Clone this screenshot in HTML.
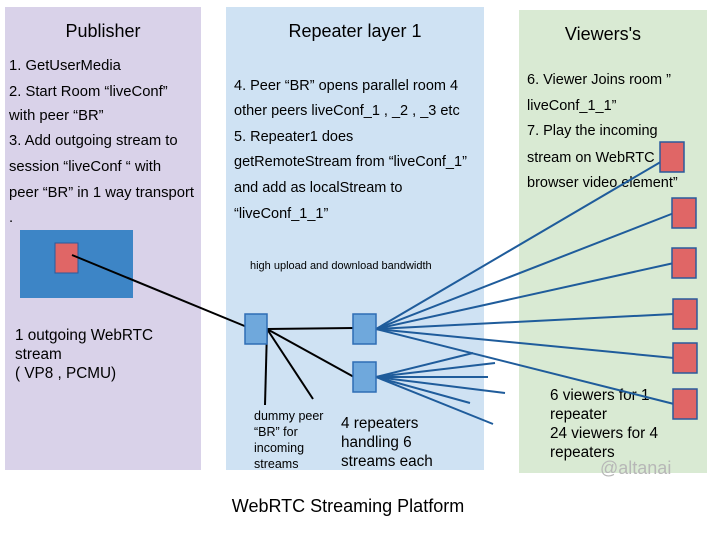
<!DOCTYPE html>
<html><head><style>
body{margin:0;background:#fff;}
svg{display:block;font-family:"Liberation Sans",Arial,sans-serif;}
</style></head><body>
<svg width="720" height="540" viewBox="0 0 720 540" xmlns="http://www.w3.org/2000/svg">
<rect x="0" y="0" width="720" height="540" fill="#fff"/>
<rect x="5" y="7" width="196" height="463" fill="#d9d2e9"/>
<rect x="226" y="7" width="258" height="463" fill="#cfe2f3"/>
<rect x="519" y="10" width="188" height="463" fill="#d9ead3"/>

<g fill="#000">
<text x="103" y="37" font-size="18" text-anchor="middle">Publisher</text>
<text x="355" y="37" font-size="18" text-anchor="middle">Repeater layer 1</text>
<text x="603" y="40" font-size="18" text-anchor="middle">Viewers's</text>

<g font-size="14.8">
<text x="9" y="70">1. GetUserMedia</text>
<text x="9" y="96">2. Start Room “liveConf”</text>
<text x="9" y="120">with peer “BR”</text>
<text x="9" y="145">3. Add outgoing stream to</text>
<text x="9" y="171">session “liveConf “ with</text>
<text x="9" y="197">peer “BR” in 1 way transport</text>
<text x="9" y="222">.</text>
</g>
<g font-size="14.5">
<text x="234" y="90">4. Peer “BR” opens parallel room 4</text>
<text x="234" y="115">other peers liveConf_1 , _2 , _3 etc</text>
<text x="234" y="141">5. Repeater1 does</text>
<text x="234" y="166">getRemoteStream from “liveConf_1”</text>
<text x="234" y="192">and add as localStream to</text>
<text x="234" y="218">“liveConf_1_1”</text>

<text x="527" y="84">6. Viewer Joins room ”</text>
<text x="527" y="110">liveConf_1_1”</text>
<text x="527" y="135">7. Play the incoming</text>
<text x="527" y="162">stream on WebRTC</text>
<text x="527" y="187">browser video element”</text>
</g>
<g font-size="15.3">
<text x="15" y="340">1 outgoing WebRTC</text>
<text x="15" y="359">stream</text>
<text x="15" y="378">( VP8 , PCMU)</text>

<text x="341" y="428">4 repeaters</text>
<text x="341" y="447">handling 6</text>
<text x="341" y="466">streams each</text>

<text x="550" y="400">6 viewers for 1</text>
<text x="550" y="419">repeater</text>
<text x="550" y="438">24 viewers for 4</text>
<text x="550" y="457">repeaters</text>
</g>
<text x="250" y="269" font-size="11">high upload and download bandwidth</text>
<g font-size="12.5">
<text x="254" y="420">dummy peer</text>
<text x="254" y="436">“BR” for</text>
<text x="254" y="452">incoming</text>
<text x="254" y="468">streams</text>
</g>
<text x="600" y="474" font-size="18" fill="#b7b7b7">@altanai</text>
<text x="348" y="512" font-size="18" text-anchor="middle">WebRTC Streaming Platform</text>
</g>

<rect x="20" y="230" width="113" height="68" fill="#3d85c6"/>
<rect x="55" y="243" width="23" height="30" fill="#e06666" stroke="#2a5a9c" stroke-width="1"/>

<g stroke="#000" stroke-width="2">
<line x1="72" y1="255" x2="247" y2="327"/>
<line x1="267" y1="329" x2="354" y2="328"/>
<line x1="267" y1="329" x2="354" y2="377"/>
<line x1="267" y1="329" x2="265" y2="405"/>
<line x1="267" y1="329" x2="313" y2="399"/>
</g>

<g stroke="#1f5c9b" stroke-width="2">
<line x1="376" y1="329" x2="664" y2="160"/>
<line x1="376" y1="329" x2="674" y2="213"/>
<line x1="376" y1="329" x2="674" y2="263"/>
<line x1="376" y1="329" x2="674" y2="314"/>
<line x1="376" y1="329" x2="674" y2="358"/>
<line x1="376" y1="329" x2="674" y2="404"/>
<line x1="376" y1="377" x2="473" y2="353"/>
<line x1="376" y1="377" x2="495" y2="363"/>
<line x1="376" y1="377" x2="488" y2="377"/>
<line x1="376" y1="377" x2="505" y2="393"/>
<line x1="376" y1="377" x2="470" y2="403"/>
<line x1="376" y1="377" x2="493" y2="424"/>
</g>

<g fill="#6fa8dc" stroke="#2f6db5" stroke-width="1.5">
<rect x="245" y="314" width="22" height="30"/>
<rect x="353" y="314" width="23" height="30"/>
<rect x="353" y="362" width="23" height="30"/>
</g>
<g fill="#e06666" stroke="#2a5a9c" stroke-width="1.5">
<rect x="660" y="142" width="24" height="30"/>
<rect x="672" y="198" width="24" height="30"/>
<rect x="672" y="248" width="24" height="30"/>
<rect x="673" y="299" width="24" height="30"/>
<rect x="673" y="343" width="24" height="30"/>
<rect x="673" y="389" width="24" height="30"/>
</g>
</svg>
</body></html>
